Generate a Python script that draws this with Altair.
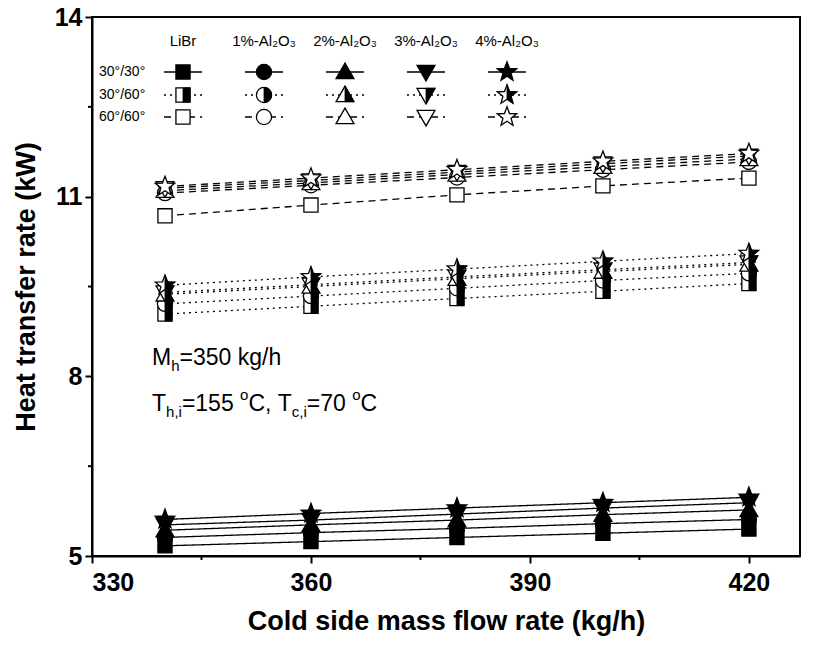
import math
import altair as alt
import pandas as pd

# ---- data -------------------------------------------------------------
flow = [340, 360, 380, 400, 420]          # cold side mass flow rate (kg/h)
fluids = ["LiBr", "1%", "2%", "3%", "4%"]
fluid_labels = ["LiBr", "1%-Al\u2082O\u2083", "2%-Al\u2082O\u2083",
                "3%-Al\u2082O\u2083", "4%-Al\u2082O\u2083"]
configs = ["30/30", "30/60", "60/60"]
config_labels = ["30\u00b0/30\u00b0", "30\u00b0/60\u00b0", "60\u00b0/60\u00b0"]

# heat transfer rate (kW), chevron angles 30/30
libr_30_30 = [5.17, 5.24, 5.31, 5.38, 5.45]
al1_30_30 = [5.31, 5.39, 5.46, 5.54, 5.61]
al2_30_30 = [5.43, 5.52, 5.60, 5.69, 5.77]
al3_30_30 = [5.52, 5.60, 5.70, 5.80, 5.89]
al4_30_30 = [5.61, 5.71, 5.80, 5.89, 5.98]

# chevron angles 30/60
libr_30_60 = [9.04, 9.17, 9.30, 9.42, 9.55]
al1_30_60 = [9.21, 9.34, 9.47, 9.60, 9.72]
al2_30_60 = [9.37, 9.50, 9.63, 9.75, 9.87]
al3_30_60 = [9.40, 9.53, 9.66, 9.78, 9.90]
al4_30_60 = [9.52, 9.66, 9.79, 9.92, 10.05]

# chevron angles 60/60
libr_60_60 = [10.68, 10.86, 11.03, 11.18, 11.31]
al1_60_60 = [11.06, 11.19, 11.32, 11.45, 11.58]
al2_60_60 = [11.10, 11.23, 11.37, 11.50, 11.63]
al3_60_60 = [11.14, 11.27, 11.41, 11.55, 11.68]
al4_60_60 = [11.17, 11.31, 11.45, 11.59, 11.72]

x_ticks = [330, 360, 390, 420]
x_minor = [345, 375, 405]
y_ticks = [5, 8, 11, 14]
y_minor = [6.5, 9.5, 12.5]

tables = {
    "30/30": [libr_30_30, al1_30_30, al2_30_30, al3_30_30, al4_30_30],
    "30/60": [libr_30_60, al1_30_60, al2_30_60, al3_30_60, al4_30_60],
    "60/60": [libr_60_60, al1_60_60, al2_60_60, al3_60_60, al4_60_60],
}

rows = []
for cfg in configs:
    for fluid, vals in zip(fluids, tables[cfg]):
        for xv, yv in zip(flow, vals):
            rows.append({"cfg": cfg, "fluid": fluid, "series": cfg + " " + fluid,
                         "flow": xv, "q": yv})
df = pd.DataFrame(rows)

# ---- marker shapes (unit box -1..1) ------------------------------------
def star_points(r_in=0.42):
    pts = []
    for k in range(10):
        ang = math.radians(-90 + 36 * k)
        r = 1.0 if k % 2 == 0 else r_in
        pts.append((r * math.cos(ang), r * math.sin(ang)))
    return pts

def poly(pts):
    return "M" + "L".join(f"{px:.3f},{py:.3f}" for px, py in pts) + "Z"

STAR_PTS = star_points()
SHAPES = {
    "LiBr": "M-1,-1H1V1H-1Z",
    "1%": "circle",
    "2%": "M0,-1L1,0.75L-1,0.75Z",
    "3%": "M-1,-0.75L1,-0.75L0,1Z",
    "4%": poly(STAR_PTS),
}
HALF = {
    "LiBr": "M0,-1H1V1H0Z",
    "1%": "M0,-1A1,1 0 0,1 0,1Z",
    "2%": "M0,-1L1,0.75L0,0.75Z",
    "3%": "M0,-0.75L1,-0.75L0,1Z",
    "4%": poly([(0, -1)] + STAR_PTS[1:6]),
}
SIZES = {"LiBr": 200, "1%": 230, "2%": 320, "3%": 320, "4%": 420}
DASH = {"30/30": [1, 0], "30/60": [2, 4], "60/60": [7, 5]}

W, H = 708, 539
X_DOM = [330, 427]
Y_DOM = [5, 14]

x_enc = alt.X("flow:Q", scale=alt.Scale(domain=X_DOM, nice=False, zero=False),
              axis=alt.Axis(values=x_ticks, title="Cold side mass flow rate (kg/h)",
                            format="d", labelPadding=7, titlePadding=13))
y_enc = alt.Y("q:Q", scale=alt.Scale(domain=Y_DOM, nice=False, zero=False),
              axis=alt.Axis(values=y_ticks, title="Heat transfer rate (kW)",
                            format="d", titlePadding=14))

base = alt.Chart(df)
layers = []

# connecting lines
for cfg in configs:
    layers.append(
        base.transform_filter(alt.datum.cfg == cfg)
        .mark_line(color="black", strokeWidth=1.3, strokeDash=DASH[cfg])
        .encode(x=x_enc, y=y_enc, detail="series:N")
    )

# markers
for fluid in fluids:
    for cfg in configs:
        sub = base.transform_filter((alt.datum.cfg == cfg) & (alt.datum.fluid == fluid))
        fill = "black" if cfg == "30/30" else "white"
        layers.append(
            sub.mark_point(shape=SHAPES[fluid], size=SIZES[fluid], filled=True,
                           fill=fill, stroke="black", strokeWidth=1.3, opacity=1)
            .encode(x="flow:Q", y="q:Q")
        )
        if cfg == "30/60":
            layers.append(
                sub.mark_point(shape=HALF[fluid], size=SIZES[fluid], filled=True,
                               fill="black", stroke="black", strokeWidth=0.8, opacity=1)
                .encode(x="flow:Q", y="q:Q")
            )

# minor ticks on the bottom and left axes
xm = pd.DataFrame({"flow": x_minor})
ym = pd.DataFrame({"q": y_minor})
layers.append(alt.Chart(xm).mark_rule(color="black", strokeWidth=2, clip=False)
              .encode(x="flow:Q", y=alt.value(H), y2=alt.value(H + 4)))
layers.append(alt.Chart(ym).mark_rule(color="black", strokeWidth=2, clip=False)
              .encode(y="q:Q", x=alt.value(0), x2=alt.value(-4)))

# ---- in-plot legend ---------------------------------------------------
COL_X = [91 + 81 * i for i in range(5)]
ROW_Y = [55, 78, 100]
HEAD_Y = 24

head_df = pd.DataFrame({"label": fluid_labels, "px": COL_X})
layers.append(alt.Chart(head_df).mark_text(font="Liberation Sans", fontSize=15,
                                           align="center", baseline="middle", color="black")
              .encode(x=alt.X("px:Q", scale=None), y=alt.value(HEAD_Y), text="label:N"))

row_df = pd.DataFrame({"label": config_labels, "py": ROW_Y})
layers.append(alt.Chart(row_df).mark_text(font="Liberation Sans", fontSize=14,
                                          align="left", baseline="middle", color="black")
              .encode(x=alt.value(7), y=alt.Y("py:Q", scale=None), text="label:N"))

seg = pd.DataFrame([{"px": cx, "py": ry, "cfg": cfg, "fluid": fl}
                    for fl, cx in zip(fluids, COL_X)
                    for cfg, ry in zip(configs, ROW_Y)])
for cfg in configs:
    layers.append(
        alt.Chart(seg).transform_filter(alt.datum.cfg == cfg)
        .transform_calculate(x1="datum.px - 19", x2="datum.px + 19")
        .mark_rule(color="black", strokeWidth=1.3, strokeDash=DASH[cfg])
        .encode(x=alt.X("x1:Q", scale=None), x2="x2:Q", y=alt.Y("py:Q", scale=None))
    )
for fluid in fluids:
    for cfg in configs:
        sub = alt.Chart(seg).transform_filter((alt.datum.cfg == cfg) & (alt.datum.fluid == fluid))
        fill = "black" if cfg == "30/30" else "white"
        layers.append(
            sub.mark_point(shape=SHAPES[fluid], size=SIZES[fluid], filled=True,
                           fill=fill, stroke="black", strokeWidth=1.3, opacity=1)
            .encode(x=alt.X("px:Q", scale=None), y=alt.Y("py:Q", scale=None))
        )
        if cfg == "30/60":
            layers.append(
                sub.mark_point(shape=HALF[fluid], size=SIZES[fluid], filled=True,
                               fill="black", stroke="black", strokeWidth=0.8, opacity=1)
                .encode(x=alt.X("px:Q", scale=None), y=alt.Y("py:Q", scale=None))
            )

# ---- operating-condition annotation with sub/superscripts ---------------
EM = {"M": .833, "T": .611, "h": .556, ",": .278, "i": .222, "c": .5, "=": .584,
      " ": .278, "k": .5, "g": .556, "/": .278, "o": .556, "C": .722}
for d in "0123456789":
    EM[d] = .556

def text_width(s, size):
    return sum(EM.get(ch, .556) for ch in s) * size

BIG, SMALL = 23, 15
lines = [
    (60, 341, [("M", BIG, 0), ("h", SMALL, 8), ("=350 kg/h", BIG, 0)]),
    (60, 387, [("T", BIG, 0), ("h,i", SMALL, 8), ("=155 ", BIG, 0), ("o", SMALL, -9),
               ("C, ", BIG, 0), ("T", BIG, 0), ("c,i", SMALL, 8), ("=70 ", BIG, 0),
               ("o", SMALL, -9), ("C", BIG, 0)]),
]
pieces = []
for x0, y0, parts in lines:
    cx = x0
    for s, size, dy in parts:
        pieces.append({"t": s, "px": cx, "py": y0 + dy, "fs": size})
        cx += text_width(s, size)
ann = pd.DataFrame(pieces)
for size in (BIG, SMALL):
    layers.append(
        alt.Chart(ann).transform_filter(alt.datum.fs == size)
        .mark_text(font="Liberation Sans", fontSize=size, align="left",
                   baseline="middle", color="black")
        .encode(x=alt.X("px:Q", scale=None), y=alt.Y("py:Q", scale=None), text="t:N")
    )

chart = (
    alt.layer(*layers)
    .properties(width=W, height=H, autosize=alt.AutoSizeParams(type="none"),
                padding={"left": 92, "top": 17, "right": 16, "bottom": 92})
    .configure(background="white")
    .configure_view(stroke="black", strokeWidth=2)
    .configure_axis(grid=False, domainColor="black", domainWidth=2, tickColor="black",
                    tickWidth=2, tickSize=7, labelFont="Liberation Sans",
                    labelFontWeight="bold", labelFontSize=25, labelColor="black",
                    titleFont="Liberation Sans", titleFontWeight="bold",
                    titleFontSize=27, titleColor="black", labelPadding=3)
)

chart.save("out.html", embed_options={"renderer": "svg", "actions": False})
